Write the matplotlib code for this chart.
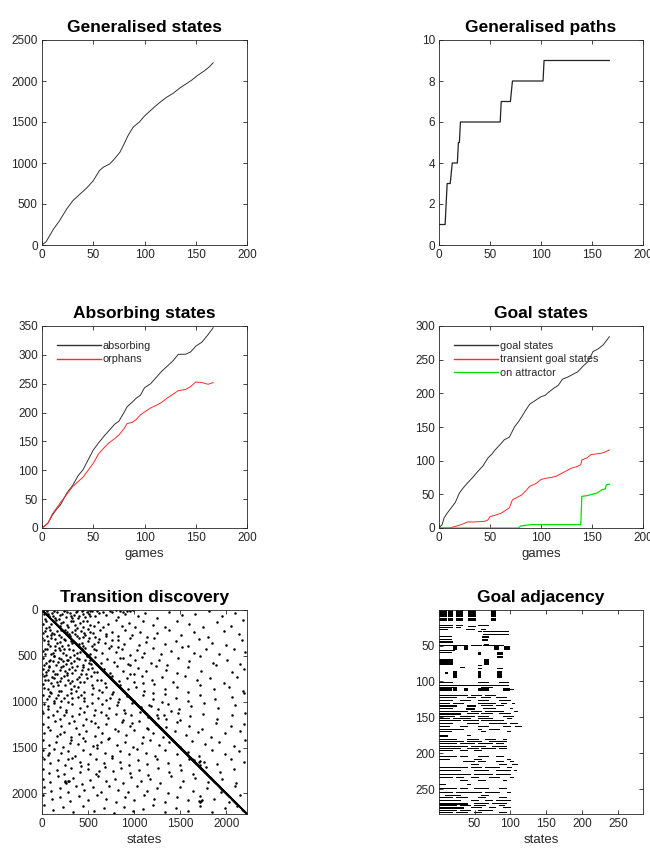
import numpy as np
import matplotlib.pyplot as plt

plt.rcParams['font.family'] = ['Liberation Sans', 'DejaVu Sans']

# ---- data ----
gen_games = [0, 4, 11, 17, 24, 30, 37, 44, 50, 56, 60, 66, 70, 76, 80, 84, 89, 95, 100,
             109, 115, 122, 128, 135, 140, 146, 152, 158, 163, 167]
gen_states = [0, 40, 190, 294, 437, 540, 620, 700, 784, 907, 950, 988, 1040, 1131, 1230,
              1336, 1438, 1500, 1573, 1675, 1740, 1805, 1850, 1920, 1960, 2010, 2070,
              2120, 2170, 2222]

path_games = [0, 6, 8, 11, 13, 18, 19, 20, 21, 60, 61, 70, 72, 102, 103, 167]
path_count = [1, 1, 3, 3, 4, 4, 5, 5, 6, 6, 7, 7, 8, 8, 9, 9]

abs_games = [0, 3, 6, 10, 14, 18, 24, 30, 35, 40, 45, 50, 55, 60, 65, 71, 75, 80, 83, 88,
             92, 96, 100, 106, 112, 117, 122, 128, 133, 140, 145, 150, 156, 162, 167]
absorbing = [0, 4, 9, 22, 32, 40, 60, 74, 90, 101, 118, 135, 147, 158, 168, 180, 185, 200,
             210, 218, 225, 230, 243, 250, 262, 272, 280, 290, 301, 301, 305, 315, 322,
             335, 347]
orphans = [0, 4, 9, 24, 34, 44, 58, 72, 80, 88, 100, 112, 128, 138, 147, 155, 161, 172,
           181, 183, 188, 196, 201, 208, 213, 218, 225, 232, 238, 240, 245, 253, 252,
           249, 252]

goal_games = [0, 3, 5, 8, 12, 16, 20, 24, 28, 33, 38, 43, 48, 52, 55, 60, 64, 69, 74, 78,
              81, 85, 89, 95, 100, 104, 107, 112, 117, 121, 126, 131, 136, 141, 146, 151,
              156, 161, 167]
goal_states = [0, 5, 15, 22, 30, 38, 52, 60, 67, 75, 84, 92, 104, 110, 116, 124, 131, 135,
               150, 158, 165, 175, 184, 190, 195, 197, 201, 207, 212, 221, 224, 228, 232,
               240, 247, 262, 266, 272, 284]
trans_games = [0, 10, 15, 20, 25, 28, 35, 45, 48, 50, 55, 61, 65, 69, 72, 76, 81, 85, 89,
               95, 100, 105, 110, 115, 120, 125, 130, 135, 139, 140, 145, 149, 154, 159,
               163, 167]
transient_goals = [0, 0, 2, 4, 7, 9, 9, 10, 12, 17, 19, 22, 26, 30, 42, 45, 49, 55, 62, 66,
                   72, 74, 75, 77, 81, 85, 89, 91, 94, 101, 104, 109, 110, 111, 113, 116]
att_games = [0, 78, 80, 85, 90, 100, 139, 140, 145, 150, 155, 160, 163, 164, 167]
on_attractor = [0, 0, 3, 4, 5, 5, 5, 47, 48, 50, 52, 57, 58, 64, 65]

n_states = 2222
n_goals = 284

# discovered transitions (state, next state), off the diagonal
transitions = [
    (25, 40), (55, 15), (80, 70), (110, 30), (140, 85), (165, 20), (200, 55), (235, 10),
    (260, 75), (300, 35), (330, 90), (365, 20), (400, 60), (430, 12), (470, 80), (505, 40),
    (540, 15), (580, 65), (620, 30), (700, 50), (760, 20), (830, 75), (900, 40), (960, 15),
    (1040, 60), (1120, 30), (1250, 85), (1380, 20), (1520, 55), (1660, 40), (1810, 15),
    (1950, 70), (2100, 35),
    (15, 150), (45, 120), (75, 180), (150, 110), (190, 170), (230, 130), (280, 190),
    (320, 115), (360, 160), (410, 140), (450, 185), (490, 120), (560, 170), (610, 130),
    (660, 190), (720, 150), (800, 110), (870, 175), (940, 140), (1010, 190), (1100, 125),
    (1200, 160), (1330, 185), (1470, 115), (1600, 150), (1750, 190), (1900, 130),
    (2050, 170), (2180, 110),
    (10, 250), (50, 280), (90, 220), (130, 265), (160, 230), (210, 290), (250, 215),
    (290, 260), (330, 235), (380, 285), (420, 225), (470, 270), (520, 245), (570, 290),
    (630, 220), (690, 260), (760, 240), (830, 285), (900, 215), (980, 270), (1060, 235),
    (1140, 290), (1250, 250), (1380, 220), (1510, 275), (1650, 240), (1800, 295),
    (1980, 225), (2140, 265),
    (20, 330), (60, 370), (100, 310), (140, 390), (190, 345), (240, 320), (280, 380),
    (330, 355), (400, 310), (450, 390), (500, 340), (560, 375), (620, 320), (680, 360),
    (750, 395), (820, 330), (890, 370), (960, 305), (1050, 385), (1130, 345), (1220, 310),
    (1330, 370), (1450, 340), (1580, 395), (1700, 320), (1850, 360), (2000, 385),
    (2170, 330),
    (10, 450), (55, 420), (95, 480), (140, 440), (185, 410), (230, 470), (290, 430),
    (350, 490), (410, 455), (470, 415), (520, 480), (590, 440), (650, 470), (730, 410),
    (800, 460), (870, 425), (950, 490), (1030, 440), (1110, 470), (1200, 415), (1290, 485),
    (1400, 445), (1520, 405), (1650, 470), (1780, 430), (1920, 480), (2080, 420),
    (2200, 460),
    (15, 520), (45, 580), (90, 540), (125, 505), (170, 570), (210, 530), (260, 590),
    (300, 515), (350, 560), (400, 530), (450, 595), (520, 550), (580, 510), (640, 580),
    (710, 535), (780, 565), (850, 520), (930, 590), (1010, 545), (1090, 510), (1180, 575),
    (1270, 540), (1360, 595), (1480, 525), (1600, 560), (1720, 505), (1860, 580),
    (2010, 540), (2150, 590),
    (10, 640), (40, 680), (80, 615), (120, 660), (165, 695), (210, 625), (245, 670),
    (290, 640), (330, 690), (380, 610), (430, 655), (480, 695), (540, 630), (600, 675),
    (670, 640), (740, 690), (810, 615), (880, 660), (960, 695), (1040, 630), (1130, 670),
    (1240, 610), (1350, 655), (1470, 690), (1590, 625), (1730, 660), (1890, 605),
    (2060, 680), (2190, 640),
    (20, 720), (70, 765), (110, 735), (160, 790), (210, 745), (270, 710), (330, 770),
    (400, 730), (460, 785), (530, 715), (600, 760), (680, 795), (760, 725), (840, 770),
    (920, 740), (1000, 790), (1090, 715), (1190, 760), (1300, 735), (1420, 785),
    (1550, 720), (1680, 765), (1820, 740), (1980, 795), (2120, 730),
    (15, 810), (60, 860), (120, 830), (180, 880), (250, 815), (320, 865), (390, 840),
    (460, 895), (540, 820), (620, 870), (700, 845), (770, 890), (850, 815), (930, 860),
    (1020, 835), (1110, 885), (1220, 810), (1340, 865), (1460, 840), (1590, 890),
    (1720, 820), (1870, 860), (2030, 835), (2180, 880),
    (10, 930), (50, 975), (100, 910), (150, 960), (210, 990), (270, 925), (330, 965),
    (390, 945), (460, 990), (540, 915), (610, 955), (690, 985), (760, 920), (840, 970),
    (920, 940), (1000, 995), (1100, 930), (1210, 970), (1330, 915), (1450, 960),
    (1580, 995), (1720, 930), (1880, 975), (2060, 945), (2190, 910),
    (20, 1030), (70, 1080), (130, 1010), (190, 1060), (260, 1090), (330, 1025), (410, 1070),
    (490, 1045), (570, 1095), (650, 1020), (730, 1065), (810, 1040), (890, 1090),
    (980, 1015), (1070, 1060), (1160, 1035), (1260, 1085), (1370, 1020), (1490, 1075),
    (1620, 1045), (1760, 1010), (1910, 1065), (2090, 1035),
    (15, 1120), (60, 1170), (120, 1140), (190, 1190), (260, 1115), (330, 1160), (400, 1130),
    (480, 1185), (560, 1145), (640, 1110), (720, 1175), (800, 1130), (880, 1195),
    (970, 1150), (1060, 1115), (1150, 1165), (1250, 1140), (1350, 1190), (1480, 1120),
    (1610, 1160), (1750, 1135), (1900, 1185), (2060, 1150), (2200, 1120),
    (10, 1240), (70, 1280), (140, 1215), (210, 1265), (290, 1230), (370, 1290), (450, 1250),
    (530, 1210), (610, 1275), (700, 1240), (790, 1295), (870, 1225), (960, 1260),
    (1050, 1215), (1140, 1285), (1240, 1245), (1350, 1275), (1470, 1220), (1600, 1260),
    (1740, 1295), (1890, 1230), (2050, 1270), (2190, 1245),
    (20, 1340), (90, 1310), (160, 1370), (240, 1330), (320, 1390), (400, 1350), (480, 1315),
    (570, 1375), (650, 1340), (730, 1395), (820, 1325), (910, 1365), (1000, 1310),
    (1100, 1380), (1200, 1345), (1310, 1390), (1440, 1320), (1560, 1360), (1690, 1330),
    (1830, 1385), (1990, 1345), (2150, 1315),
    (15, 1420), (80, 1470), (150, 1440), (230, 1490), (310, 1415), (390, 1460), (470, 1430),
    (550, 1485), (640, 1445), (720, 1410), (810, 1470), (900, 1435), (990, 1490),
    (1080, 1450), (1170, 1415), (1270, 1475), (1380, 1440), (1500, 1495), (1630, 1425),
    (1770, 1465), (1920, 1440), (2080, 1480), (2200, 1420),
    (10, 1530), (60, 1580), (130, 1515), (210, 1560), (280, 1540), (360, 1595), (440, 1525),
    (520, 1570), (600, 1510), (680, 1555), (760, 1590), (850, 1535), (940, 1575),
    (1030, 1515), (1130, 1560), (1230, 1595), (1340, 1530), (1460, 1570), (1580, 1545),
    (1700, 1590), (1840, 1525), (1990, 1570), (2140, 1540),
    (20, 1620), (90, 1665), (170, 1640), (250, 1690), (330, 1615), (410, 1655), (500, 1685),
    (590, 1630), (670, 1670), (760, 1610), (850, 1660), (940, 1695), (1040, 1635),
    (1140, 1675), (1250, 1620), (1370, 1665), (1500, 1690), (1630, 1625), (1720, 1645),
    (1760, 1660), (1900, 1685), (2050, 1620), (2190, 1660),
    (15, 1730), (80, 1775), (160, 1745), (240, 1790), (320, 1720), (410, 1765), (500, 1735),
    (590, 1785), (680, 1710), (770, 1760), (860, 1725), (950, 1780), (1050, 1745),
    (1150, 1795), (1260, 1720), (1380, 1770), (1510, 1740), (1640, 1790), (1780, 1715),
    (1930, 1765), (2080, 1735),
    (10, 1840), (90, 1880), (170, 1815), (250, 1860), (280, 1870), (340, 1830), (430, 1895),
    (520, 1850), (610, 1815), (700, 1870), (790, 1840), (880, 1890), (970, 1820),
    (1070, 1865), (1170, 1840), (1280, 1885), (1400, 1815), (1530, 1860), (1660, 1830),
    (1800, 1880), (1950, 1845), (2110, 1890),
    (20, 1930), (100, 1970), (190, 1945), (280, 1990), (370, 1920), (460, 1965), (550, 1935),
    (640, 1985), (730, 1915), (830, 1960), (930, 1990), (1030, 1925), (1140, 1970),
    (1250, 1940), (1370, 1995), (1500, 1930), (1640, 1970), (1790, 1945), (1940, 1985),
    (2100, 1925),
    (15, 2020), (110, 2065), (200, 2040), (300, 2085), (400, 2030), (500, 2070), (600, 2015),
    (700, 2060), (800, 2090), (900, 2035), (1000, 2075), (1110, 2020), (1220, 2060),
    (1340, 2095), (1460, 2040), (1590, 2075), (1720, 2030), (1730, 2080), (1870, 2060),
    (2030, 2095), (2150, 2020),
    (20, 2130), (120, 2180), (230, 2150), (340, 2200), (450, 2140), (560, 2190), (670, 2160),
    (780, 2210), (890, 2145), (990, 2195), (1100, 2170), (1210, 2130), (1330, 2205),
    (1450, 2160), (1580, 2190), (1710, 2140), (1850, 2200), (1990, 2165), (2120, 2135),
    # denser early region
    (35, 95), (70, 45), (120, 60), (185, 95), (220, 40), (275, 20), (310, 65), (345, 50),
    (390, 85), (445, 45), (490, 25), (525, 70), (95, 150), (210, 140), (270, 160),
    (340, 125), (380, 195), (440, 115), (520, 160), (30, 230), (110, 250), (180, 275),
    (270, 235), (360, 260), (440, 295), (500, 210), (65, 340), (160, 365), (220, 395),
    (310, 335), (430, 365), (540, 395), (30, 480), (120, 465), (200, 440), (260, 495),
    (380, 470), (560, 430), (80, 560), (150, 595), (230, 555), (320, 580), (470, 545),
    (60, 650), (140, 700), (190, 650), (270, 685), (360, 655), (420, 700), (500, 640),
    (30, 760), (100, 800), (200, 770), (300, 800), (380, 755), (90, 890), (170, 930),
    (240, 960), (310, 900), (420, 925), (600, 8), (660, 25), (740, 10), (880, 20),
    (990, 5), (5, 300), (5, 700), (5, 1100), (5, 1600),
    (15, 5), (130, 8), (250, 5), (380, 10), (450, 5), (520, 8), (800, 5), (850, 12),
    (920, 8), (45, 200), (95, 270), (145, 320), (205, 215), (255, 330), (305, 280),
    (355, 215), (405, 370), (455, 250), (505, 300), (555, 250), (605, 350), (35, 420),
    (85, 395), (135, 500), (185, 520), (235, 420), (285, 550), (335, 440), (385, 520),
    (435, 420), (485, 500), (535, 590), (25, 600), (75, 620), (115, 560), (225, 610),
    (275, 540), (325, 620), (445, 620), (505, 580), (565, 680), (45, 710), (125, 740),
    (175, 820), (235, 720), (285, 760), (345, 830), (415, 790), (485, 740), (555, 850),
    (645, 760), (25, 850), (75, 940), (135, 990), (205, 880), (285, 1000), (365, 880),
    (455, 960), (545, 1010), (650, 890), (740, 960), (820, 1000), (60, 1050), (160, 1100),
    (240, 1150), (350, 1210), (460, 1110), (580, 1230), (700, 1150), (200, 1350),
    (300, 1450), (450, 1400), (600, 1470), (80, 1560), (280, 1620), (420, 1700),
    (620, 1760), (250, 1880), (260, 1890), (290, 1860), (700, 280), (760, 330), (820, 400),
    (880, 520), (950, 600), (1000, 700), (1100, 800), (1200, 900), (1300, 1000),
    (1400, 1100), (1500, 1200), (1600, 1620), (1650, 1640), (1700, 1660), (1720, 1690),
    (1180, 1050), (1260, 1180), (1320, 1150), (1150, 1300), (980, 1230), (900, 1120),
    (1700, 2080), (1710, 2090), (1740, 2070),
]

# goal adjacency blocks: (first row, last row, first col, last col)
goal_blocks = [
    (1, 9, 1, 11), (1, 9, 13, 19), (1, 9, 25, 34), (1, 9, 42, 52), (1, 9, 73, 80),
    (13, 15, 1, 11), (13, 15, 13, 19), (13, 15, 25, 34), (13, 15, 42, 52), (13, 15, 73, 80),
    (22, 22, 1, 20), (25, 25, 1, 20), (28, 28, 1, 12), (22, 22, 25, 34), (25, 25, 25, 30),
    (28, 28, 38, 50), (22, 22, 55, 70), (28, 28, 60, 66), (24, 24, 42, 52),
    (31, 31, 62, 97), (34, 34, 62, 97), (31, 31, 55, 60),
    (37, 38, 1, 18), (41, 42, 1, 18), (45, 46, 1, 20), (38, 39, 61, 70), (42, 43, 61, 68),
    (50, 50, 1, 40), (50, 50, 45, 60), (51, 55, 20, 25), (51, 55, 36, 41), (51, 55, 77, 83),
    (51, 55, 91, 99), (50, 50, 62, 90), (48, 48, 63, 70),
    (57, 57, 1, 22), (60, 60, 1, 18), (60, 62, 55, 59), (60, 62, 82, 89),
    (69, 76, 1, 19), (69, 76, 64, 70), (65, 67, 82, 89),
    (80, 80, 30, 36), (82, 82, 55, 60), (82, 82, 82, 89), (78, 78, 55, 60),
    (86, 95, 20, 25), (86, 95, 55, 59), (86, 95, 82, 88), (88, 89, 10, 12),
    (102, 102, 1, 20), (102, 102, 55, 70), (102, 102, 85, 97),
    (105, 105, 1, 97), (108, 108, 1, 25), (108, 108, 60, 75), (110, 112, 1, 18),
    (110, 112, 20, 25), (110, 112, 36, 41), (110, 112, 55, 70), (110, 112, 90, 99),
    (111, 111, 100, 105),
    (119, 119, 1, 40), (119, 119, 45, 60), (119, 119, 65, 80),
    (123, 123, 1, 25), (123, 123, 40, 52), (123, 123, 60, 72), (123, 123, 80, 95),
    (127, 127, 1, 20), (127, 127, 30, 45), (127, 127, 55, 70), (127, 127, 85, 100),
    (131, 131, 1, 15), (131, 131, 20, 35), (131, 131, 55, 80), (131, 131, 88, 95),
    (131, 131, 102, 106),
    (134, 135, 1, 25), (134, 135, 40, 52), (134, 134, 60, 75), (134, 134, 80, 90),
    (138, 138, 1, 20), (138, 139, 38, 50), (138, 138, 62, 80), (138, 138, 100, 103),
    (142, 142, 1, 40), (142, 142, 45, 60), (142, 142, 65, 90), (142, 142, 105, 110),
    (145, 146, 1, 30), (145, 145, 40, 55), (145, 145, 60, 75), (145, 145, 85, 100),
    (149, 149, 1, 22), (149, 149, 30, 50), (149, 149, 55, 70), (149, 149, 90, 105),
    (152, 152, 1, 15), (152, 152, 20, 45), (152, 152, 55, 75), (152, 152, 95, 102),
    (155, 155, 1, 30), (155, 155, 35, 55), (155, 155, 60, 90),
    (159, 159, 1, 20), (159, 159, 40, 55), (159, 159, 70, 95), (159, 159, 100, 110),
    (163, 163, 1, 15), (163, 163, 30, 40), (163, 163, 55, 70), (163, 163, 90, 100),
    (163, 163, 107, 115),
    (167, 167, 1, 35), (167, 167, 55, 60), (167, 167, 70, 85),
    (170, 170, 1, 18), (170, 170, 60, 65), (170, 170, 95, 100),
    (175, 176, 1, 12), (175, 175, 40, 45),
    (181, 181, 1, 25), (181, 181, 40, 55), (181, 181, 65, 80), (181, 181, 90, 95),
    (184, 184, 1, 35), (184, 184, 40, 60), (184, 184, 70, 95),
    (187, 187, 1, 25), (187, 187, 30, 50), (187, 187, 55, 75), (187, 187, 80, 90),
    (190, 190, 1, 40), (190, 190, 45, 65), (190, 190, 75, 95),
    (193, 194, 1, 30), (193, 193, 40, 55), (193, 193, 60, 80), (193, 193, 85, 95),
    (196, 196, 1, 20), (196, 196, 30, 40), (196, 196, 50, 60),
    (205, 205, 1, 25), (205, 205, 30, 40), (205, 205, 55, 70), (205, 205, 80, 90),
    (208, 208, 1, 15), (208, 208, 50, 60), (208, 208, 95, 100),
    (212, 212, 35, 50), (212, 212, 55, 65), (212, 212, 80, 90), (212, 212, 100, 105),
    (216, 216, 45, 55), (216, 216, 85, 95), (216, 216, 103, 110),
    (220, 220, 1, 40), (220, 220, 45, 60), (220, 220, 65, 85), (220, 220, 95, 102),
    (224, 224, 1, 30), (224, 224, 50, 70), (224, 224, 80, 100), (224, 224, 105, 108),
    (229, 229, 1, 45), (229, 229, 50, 75), (229, 229, 80, 100),
    (233, 233, 1, 20), (233, 233, 25, 35), (233, 233, 45, 55), (233, 233, 70, 85),
    (233, 233, 100, 104),
    (238, 238, 30, 40), (238, 238, 55, 65), (238, 238, 90, 95),
    (243, 243, 1, 10), (243, 243, 40, 45),
    (249, 249, 1, 25), (249, 249, 30, 40), (249, 249, 50, 70), (249, 249, 85, 95),
    (255, 255, 1, 20), (255, 255, 25, 60), (255, 255, 65, 85), (255, 255, 95, 100),
    (259, 259, 10, 30), (259, 259, 60, 70),
    (262, 262, 1, 20), (262, 262, 25, 40), (262, 262, 55, 65), (262, 262, 85, 95),
    (266, 266, 1, 30), (266, 266, 45, 55), (266, 266, 65, 75), (266, 266, 80, 100),
    (270, 271, 1, 40), (270, 270, 50, 70), (270, 270, 75, 95),
    (273, 273, 1, 25), (273, 273, 30, 45), (273, 273, 50, 65), (273, 273, 85, 92),
    (276, 277, 1, 35), (276, 276, 45, 60), (276, 276, 70, 80), (276, 276, 90, 100),
    (279, 279, 1, 25), (279, 279, 30, 45), (279, 279, 55, 75),
    (282, 283, 1, 20), (282, 282, 25, 40), (282, 282, 50, 60), (282, 282, 85, 95),
]

AX_COL = '#262626'
LW = 0.7


def style_axes(ax):
    ax.tick_params(direction='in', top=True, right=True, length=3, width=0.6,
                   colors=AX_COL, labelsize=8.5, pad=3)
    for s in ax.spines.values():
        s.set_color(AX_COL)
        s.set_linewidth(0.6)


def title(ax, txt):
    ax.set_title(txt, fontsize=12.5, fontweight='bold', color='black', pad=6)


fig = plt.figure(figsize=(6.5, 8.5), dpi=100)
W, H = 650, 850


def place(left, top, right, bottom):
    return fig.add_axes([left / W, 1 - bottom / H, (right - left) / W, (bottom - top) / H])


leg_kw = dict(loc='upper left', frameon=False, fontsize=7.8, handlelength=4.0,
              handletextpad=0.2, borderaxespad=1.1, borderpad=0.3, labelspacing=0.3)

# Generalised states
ax1 = place(42, 40, 247, 245)
ax1.plot(gen_games, gen_states, color='#333333', lw=LW)
ax1.set_xlim(0, 200)
ax1.set_ylim(0, 2500)
ax1.set_xticks([0, 50, 100, 150, 200])
ax1.set_yticks([0, 500, 1000, 1500, 2000, 2500])
style_axes(ax1)
title(ax1, 'Generalised states')

# Generalised paths
ax2 = place(439, 40, 643, 245)
ax2.plot(path_games, path_count, color='#222222', lw=0.9)
ax2.set_xlim(0, 200)
ax2.set_ylim(0, 10)
ax2.set_xticks([0, 50, 100, 150, 200])
ax2.set_yticks([0, 2, 4, 6, 8, 10])
style_axes(ax2)
title(ax2, 'Generalised paths')

# Absorbing states
ax3 = place(42, 326, 247, 528)
ax3.plot(abs_games, absorbing, color='#333333', lw=LW, label='absorbing')
ax3.plot(abs_games, orphans, color='#ff2a2a', lw=LW, label='orphans')
ax3.set_xlim(0, 200)
ax3.set_ylim(0, 350)
ax3.set_xticks([0, 50, 100, 150, 200])
ax3.set_yticks(np.arange(0, 351, 50))
ax3.set_xlabel('games', fontsize=9.5, color=AX_COL, labelpad=3)
style_axes(ax3)
title(ax3, 'Absorbing states')
leg3 = ax3.legend(**leg_kw)

# Goal states
ax4 = place(439, 326, 643, 528)
ax4.plot(goal_games, goal_states, color='#333333', lw=LW, label='goal states')
ax4.plot(trans_games, transient_goals, color='#ff2a2a', lw=LW,
         label='transient goal states')
ax4.plot(att_games, on_attractor, color='#00e000', lw=0.9, label='on attractor')
ax4.set_xlim(0, 200)
ax4.set_ylim(0, 300)
ax4.set_xticks([0, 50, 100, 150, 200])
ax4.set_yticks(np.arange(0, 301, 50))
ax4.set_xlabel('games', fontsize=9.5, color=AX_COL, labelpad=3)
style_axes(ax4)
title(ax4, 'Goal states')
leg4 = ax4.legend(**leg_kw)

for leg in (leg3, leg4):
    for ln in leg.get_lines():
        ln.set_linewidth(1.0)
    for t in leg.get_texts():
        t.set_color(AX_COL)

# Transition discovery
ax5 = place(42, 610, 247, 814)
tr = np.array(transitions)
ax5.plot(tr[:, 0], tr[:, 1], 'o', color='black', ms=1.8, mew=0)
diag = np.arange(1, n_states + 1)
ax5.plot(diag, diag, 'o', color='black', ms=1.2, mew=0)
ax5.set_xlim(0, n_states + 3)
ax5.set_ylim(n_states + 3, 0)
ax5.set_xticks([0, 500, 1000, 1500, 2000])
ax5.set_yticks([0, 500, 1000, 1500, 2000])
ax5.set_xlabel('states', fontsize=9.5, color=AX_COL, labelpad=3)
style_axes(ax5)
title(ax5, 'Transition discovery')

# Goal adjacency: each block of linked goal states drawn as a filled bar
ax6 = place(439, 610, 643, 814)
gb = np.array(goal_blocks, dtype=float)
ax6.barh((gb[:, 0] + gb[:, 1]) / 2, gb[:, 3] - gb[:, 2] + 1, left=gb[:, 2] - 0.5,
         height=gb[:, 1] - gb[:, 0] + 1.4, color='black', linewidth=0)
ax6.set_xlim(0.5, n_goals + 0.5)
ax6.set_ylim(n_goals + 0.5, 0.5)
ax6.set_xticks([50, 100, 150, 200, 250])
ax6.set_yticks([50, 100, 150, 200, 250])
ax6.set_xlabel('states', fontsize=9.5, color=AX_COL, labelpad=3)
style_axes(ax6)
title(ax6, 'Goal adjacency')

fig.savefig('out.png', dpi=100)
